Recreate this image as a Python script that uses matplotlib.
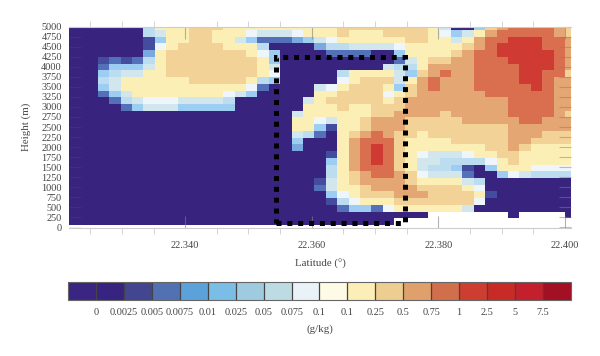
from matplotlib import pyplot as plt
from matplotlib.colors import BoundaryNorm, ListedColormap
from matplotlib.cm import ScalarMappable
from matplotlib.patches import Rectangle
from matplotlib.ticker import MultipleLocator
import numpy as np

plt.rcParams['font.family'] = ['Liberation Serif', 'DejaVu Serif']

bar_labels = ['0', '0.0025', '0.005', '0.0075', '0.01', '0.025', '0.05', '0.075',
              '0.1', '0.1', '0.25', '0.5', '0.75', '1', '2.5', '5', '7.5']

map_colors = ['#38247f', '#37247f', '#434c9e', '#5470b8', '#7aa8df', '#9dcdf2',
              '#bcdcef', '#d2e6ee', '#eff6fb', '#fdfbe6', '#fcefb6', '#f3d298',
              '#e4a672', '#d96f4e', '#cf3b32', '#c82a25', '#c41f2c', '#a30f23']
bar_colors = ['#3b2583', '#372480', '#42458f', '#5271b3', '#5aa2d9', '#7abde6',
              '#9ecbe0', '#bddbe3', '#e9f3f7', '#fdfbe6', '#fbeeb6', '#edcd90',
              '#e0a06c', '#d16e4b', '#cd3d30', '#c82a25', '#c41f2c', '#a30f23']

y_ticks = np.arange(0, 5001, 250)
x_ticks = [22.34, 22.36, 22.38, 22.40]

# grid edges, half cells at the borders
lat_edges = np.concatenate(([22.3216], np.linspace(22.3226, 22.4000, 44), [22.4009]))
height_edges = np.concatenate((np.linspace(57, 4917, 30), [5000]))

# colour class per cell, top row first, base 18, '.' = no data
rows = [
    '00000 006aa abbba aaaaa aaaab bbbbb bba70 05bcd dddcb',
    '00000 0067a abbaa a8777 8aaab aaabb bba85 7acdd dddcb',
    '00000 0025a abbaa 75333 4578a aaaaa bbaa7 acdde eeddc',
    '00000 0028a bbbba aa600 00466 77778 aaaaa bcdee eeddc',
    '00000 004ab bbbbb ba850 00033 33005 aaaab cddee eeedc',
    '00023 236ab bbbbb bba50 00000 00003 7abbc cddde eeedc',
    '00035 557ab bbbbb bba70 00000 00076 6accc cdddd eeedc',
    '00056 77aab bbbbb bba80 00006 aaaa7 5bcdc cdddd eeddb',
    '00067 aaaaa abbbb ba650 00008 abbb7 acdcc cdddd eedcc',
    '00057 aaaaa aaaaa a8300 0078a bbba5 bcdcc cdddd dedcc',
    '00035 7aaaa aaaa8 75000 00aab bbb8a bcccc ccddd dddcc',
    '00003 67888 77776 00000 07abb bbbab ccccc ccccd dddcc',
    '00000 35777 55555 00000 0aaab aabbb ccccc ccccd dddcc',
    '00000 00000 00000 00000 7aaaa aabbc cccbc ccccd dddcb',
    '00000 00000 00000 00000 aa87a abccc bbbbb ccccc ddccc',
    '00000 00000 00000 00000 aa52a abccc bbbbb bbbbc ccccc',
    '00000 00000 00000 00000 7630a bcdcb babbb bbbbc ccbbb',
    '00000 00000 00000 00000 5000a cdddb aaaab bbbbc cbbbb',
    '00000 00000 00000 00000 4000a cdedb aaaaa aabbc baaaa',
    '00000 00000 00000 00000 0002a cdedb a8777 8aabb aaaaa',
    '00000 00000 00000 00000 0005a cdedb a7766 668ab aaaaa',
    '00000 00000 00000 00000 0006a cdddb a7665 205aa a8888',
    '00000 00000 00000 00000 0006a bcddc b8777 30058 76666',
    '00000 00000 00000 00000 0027a bcccc baaaa 76000 00000',
    '00000 00000 00000 00000 0037a abccc cbbbb a8000 00000',
    '00000 00000 00000 00000 00058 abbbc ccbbb ba200 00000',
    '00000 00000 00000 00000 00026 8aaab bbbbb b8000 00000',
    '00000 00000 00000 00000 00003 5538a aaaaa 70000 00000',
    '00000 00000 00000 00000 00000 00000 00... ....0 ....0',
    '00000 00000 00000 00000 00000 0000. ..... ..... .....',
]

box_lat = [22.3544, 22.3747]
box_height = [100, 4255]

digits = '0123456789abcdefgh'
grid = np.array([[digits.find(c) for c in r.replace(' ', '')] for r in rows], dtype=float)
grid = np.ma.masked_less(grid[::-1], 0)

text_color = '#444444'
w, h = 600, 356
fig = plt.figure(figsize=(w / 100, h / 100), dpi=100)
ax = fig.add_axes([68.7 / w, 1 - 228 / h, 502 / w, 201.3 / h])

norm = BoundaryNorm(np.arange(19), 18)
ax.pcolormesh(lat_edges, height_edges, grid, cmap=ListedColormap(map_colors), norm=norm)
ax.set_xlim(22.3216, 22.4009)
ax.set_ylim(-17, 5000)

ax.add_patch(Rectangle((box_lat[0], box_height[0]), box_lat[1] - box_lat[0],
                       box_height[1] - box_height[0], fill=False, edgecolor='black',
                       linewidth=3.6, linestyle=(0, (1, 1.17)), zorder=5, clip_on=False))

ax.set_xticks(x_ticks)
ax.set_xticklabels(['22.340', '22.360', '22.380', '22.400'])
ax.xaxis.set_minor_locator(MultipleLocator(0.005))
ax.set_yticks(y_ticks)
ax.tick_params(axis='x', which='major', direction='in', length=8.6, width=0.8, top=True,
               color=(0.5, 0.5, 0.5, 0.6), labelsize=7.4, labelcolor=text_color, pad=9)
ax.tick_params(axis='x', which='minor', direction='out', length=4.3, width=0.7, top=True,
               color='#d4d4d4')
ax.tick_params(axis='y', direction='in', length=8.6, width=0.8, right=True,
               color=(0.5, 0.5, 0.5, 0.5), labelsize=7.4, labelcolor=text_color, pad=5)
# left ticks barely show on the dark cells
for tick in ax.yaxis.get_major_ticks():
    tick.tick1line.set_alpha(0.12)
for side in ['top', 'bottom']:
    ax.spines[side].set_color('#cccccc')
for side in ['left', 'right']:
    ax.spines[side].set_visible(False)

fig.text(320 / w, 1 - 264 / h, 'Latitude (°)', ha='center', va='center',
         fontsize=7.8, color=text_color)
fig.text(26 / w, 1 - 127 / h, 'Height (m)', ha='center', va='center', rotation=90,
         fontsize=7.8, color=text_color)

cax = fig.add_axes([68.3 / w, 1 - 300 / h, 502.4 / w, 18.3 / h])
cb = fig.colorbar(ScalarMappable(norm=norm, cmap=ListedColormap(bar_colors)), cax=cax,
                  orientation='horizontal', drawedges=True)
cb.dividers.set_color('#444444')
cb.dividers.set_linewidth(0.9)
cb.outline.set_edgecolor('#666666')
cb.outline.set_linewidth(0.8)
cb.set_ticks(np.arange(1, 18))
cb.set_ticklabels(bar_labels)
cb.ax.minorticks_off()
cb.ax.tick_params(length=0, labelsize=7.4, labelcolor=text_color, pad=6)

fig.text(320 / w, 1 - 329 / h, '(g/kg)', ha='center', va='center', fontsize=7.8,
         color=text_color)

plt.savefig('out.png', dpi=100)
